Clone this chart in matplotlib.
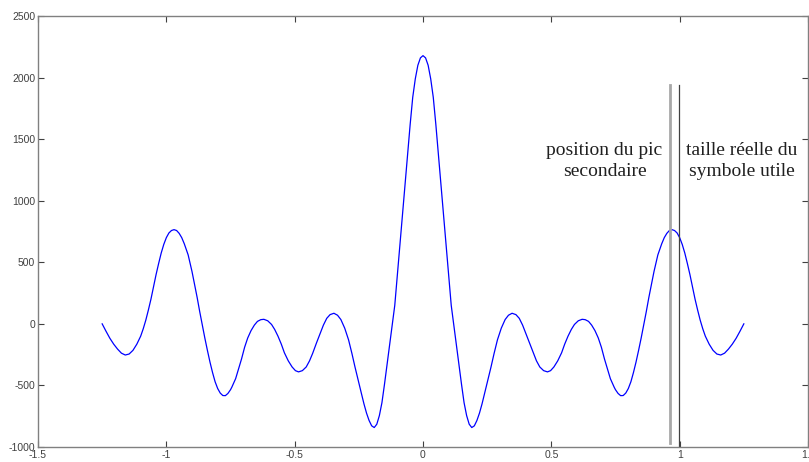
import matplotlib
matplotlib.use("Agg")
import matplotlib.pyplot as plt

plt.rcParams["axes.unicode_minus"] = False

# values (left half, then right half)
x_left = [-1.25, -1.235, -1.22, -1.205, -1.19, -1.175, -1.16, -1.145, -1.13, -1.115,
          -1.10, -1.09, -1.08, -1.07, -1.06, -1.05, -1.04, -1.03, -1.02, -1.01,
          -1.00, -0.99, -0.98, -0.97, -0.96, -0.95, -0.94, -0.93, -0.915, -0.90,
          -0.88, -0.87, -0.86, -0.85, -0.84, -0.83, -0.82, -0.81, -0.80, -0.79,
          -0.78, -0.77, -0.76, -0.75, -0.745, -0.73, -0.72, -0.707, -0.695, -0.683,
          -0.67, -0.657, -0.645, -0.632, -0.62, -0.605, -0.59, -0.578, -0.565, -0.552,
          -0.54, -0.525, -0.51, -0.497, -0.485, -0.47, -0.455, -0.442, -0.43, -0.415,
          -0.40, -0.388, -0.375, -0.362, -0.347, -0.333, -0.32, -0.305, -0.29, -0.277,
          -0.265, -0.252, -0.24, -0.23, -0.22, -0.21, -0.20, -0.19, -0.18, -0.17,
          -0.16, -0.15, -0.14, -0.13, -0.12, -0.11, -0.10, -0.09, -0.08, -0.07,
          -0.06, -0.05, -0.04, -0.03, -0.02, -0.01, 0.0]
y_left = [0, -60, -117, -165, -205, -238, -253, -245, -215, -165,
          -100, -40, 30, 112, 200, 300, 400, 490, 575, 645,
          700, 738, 758, 765, 758, 735, 700, 650, 560, 425,
          215, 100, -8, -115, -215, -310, -395, -470, -525, -562,
          -582, -583, -565, -535, -515, -445, -375, -285, -190, -115,
          -55, -10, 20, 34, 37, 25, -5, -45, -100, -165,
          -235, -300, -350, -380, -390, -380, -350, -300, -240, -155,
          -75, -10, 45, 75, 86, 70, 35, -35, -130, -240,
          -350, -460, -565, -650, -725, -785, -828, -842, -815, -745,
          -640, -490, -330, -170, -10, 150, 390, 640, 885, 1130,
          1380, 1620, 1840, 1990, 2100, 2160, 2178]

x_right = [0.01, 0.02, 0.03, 0.04, 0.05, 0.06, 0.07, 0.08, 0.09, 0.10,
           0.11, 0.12, 0.13, 0.14, 0.15, 0.16, 0.17, 0.18, 0.19, 0.20,
           0.21, 0.22, 0.23, 0.24, 0.252, 0.265, 0.277, 0.29, 0.305, 0.32,
           0.333, 0.347, 0.362, 0.375, 0.388, 0.40, 0.415, 0.43, 0.442, 0.455,
           0.47, 0.485, 0.497, 0.51, 0.525, 0.54, 0.552, 0.565, 0.578, 0.59,
           0.605, 0.62, 0.632, 0.645, 0.657, 0.67, 0.683, 0.695, 0.707, 0.72,
           0.73, 0.745, 0.75, 0.76, 0.77, 0.78, 0.79, 0.80, 0.81, 0.82,
           0.83, 0.84, 0.85, 0.86, 0.87, 0.88, 0.90, 0.915, 0.93, 0.94,
           0.95, 0.96, 0.97, 0.98, 0.99, 1.00, 1.01, 1.02, 1.03, 1.04,
           1.05, 1.06, 1.07, 1.08, 1.09, 1.10, 1.115, 1.13, 1.145, 1.16,
           1.175, 1.19, 1.205, 1.22, 1.235, 1.25]
y_right = [2160, 2100, 1990, 1840, 1620, 1380, 1130, 885, 640, 390,
           150, -10, -170, -330, -490, -640, -745, -815, -842, -828,
           -785, -725, -650, -565, -460, -350, -240, -130, -35, 35,
           70, 86, 75, 45, -10, -75, -155, -240, -300, -350,
           -380, -390, -380, -350, -300, -235, -165, -100, -45, -5,
           25, 37, 34, 20, -10, -55, -115, -190, -285, -375,
           -445, -515, -535, -565, -583, -582, -562, -525, -470, -395,
           -310, -215, -115, -8, 100, 215, 425, 560, 650, 700,
           735, 758, 765, 758, 738, 700, 645, 575, 490, 400,
           300, 200, 112, 30, -40, -100, -165, -215, -245, -253,
           -238, -205, -165, -117, -60, 0]

x_pic = 0.964      # position du pic secondaire
x_symbole = 0.997  # taille reelle du symbole utile

fig = plt.figure(figsize=(8.09, 4.62), dpi=100)
ax = fig.add_axes([38 / 809, 15 / 462, 770 / 809, 431 / 462])

ax.plot(x_left + x_right, y_left + y_right, color="#0000ff", lw=0.9)
ax.plot([x_pic, x_pic], [-967, 1940], color="#a8a8a8", lw=2)
ax.plot([x_symbole, x_symbole], [-1000, 1940], color="#404040", lw=0.9)

ax.text(0.707, 1319, "position du pic\nsecondaire", ha="center", va="center",
        family="Liberation Serif", fontsize=14, linespacing=1.3, color="#202020")
ax.text(1.242, 1319, "taille réelle du\nsymbole utile", ha="center", va="center",
        family="Liberation Serif", fontsize=14, linespacing=1.3, color="#202020")

ax.set_xlim(-1.5, 1.5)
ax.set_ylim(-1000, 2500)
ax.set_xticks([-1.5, -1, -0.5, 0, 0.5, 1, 1.5])
ax.set_xticklabels(["-1.5", "-1", "-0.5", "0", "0.5", "1", "1.5"])
ax.set_yticks(range(-1000, 2501, 500))
ax.tick_params(direction="in", length=4, width=0.8, top=True, right=True,
               labelsize=7.5, colors="#404040", pad=2)
for lab in ax.get_xticklabels() + ax.get_yticklabels():
    lab.set_family("Liberation Sans")
for s in ax.spines.values():
    s.set_color("#808080")
    s.set_linewidth(1)

fig.savefig("out.png", dpi=100)
